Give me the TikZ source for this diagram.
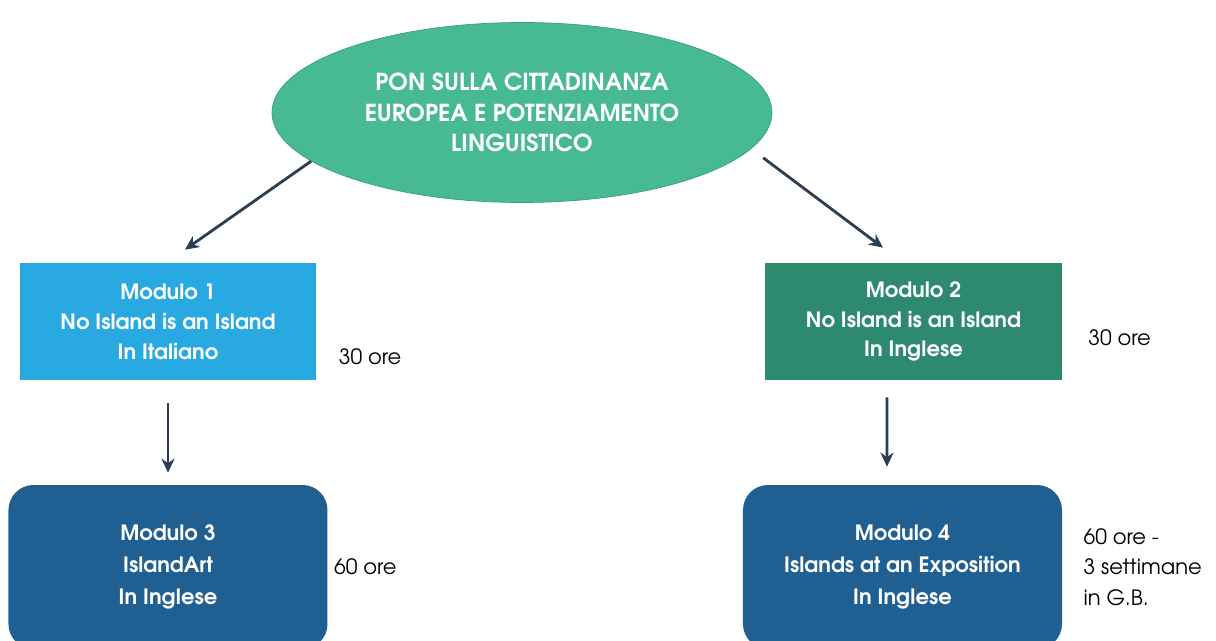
\documentclass[tikz,border=0pt]{standalone}
\usepackage{fontspec}
\setmainfont{TeX Gyre Adventor}
\usepackage{tikz}
\usetikzlibrary{shapes.geometric, arrows.meta, positioning}
\definecolor{ponGreen}{HTML}{48B995}
\definecolor{ponEdge}{HTML}{3A9E80}
\definecolor{modCyan}{HTML}{29A9E1}
\definecolor{modTeal}{HTML}{2E8A6E}
\definecolor{modBlue}{HTML}{1F5F91}
\definecolor{arrowGray}{HTML}{2C3E50}
\begin{document}
\begin{tikzpicture}[node distance=4.91cm]
	\tikzstyle{root} = [ellipse, minimum width=10cm, minimum height=3.6cm, 
	inner sep=0pt, align=center, text=white, font=\bfseries\fontsize{13.3}{17.3}\selectfont, 
	draw=ponEdge, fill=ponGreen]
	\tikzstyle{module} = [rectangle, minimum width=5.93cm, minimum height=2.34cm, 
	align=center, text=white, font=\bfseries\fontsize{12}{17}\selectfont]
	\tikzstyle{project} = [rectangle, rounded corners=0.5cm, minimum width=6.38cm, 
	minimum height=3.28cm, align=center, text=white, fill=modBlue, 
	font=\bfseries\fontsize{12}{18}\selectfont]
	\tikzstyle{hours} = [inner sep=0pt, align=left, font=\fontsize{12}{17.5}\selectfont]
	\tikzstyle{arrow} = [line width=1.6pt, draw=arrowGray, -{Stealth[length=0.28cm, width=0.26cm]}]
	\clip (-10.44,-10.62) rectangle (13.88,2.2);
	\fill [white] (-10.44,-10.62) rectangle (13.88,2.2);
	\node (pon) [root, yshift=-0.05cm] {PON SULLA CITTADINANZA\\EUROPEA E POTENZIAMENTO\\LINGUISTICO};
	\node (modulo1) [module, fill=modCyan, below of=pon, xshift=-7.08cm, yshift=0.73cm] 
	{Modulo 1\\No Island is an Island\\In Italiano};
	\node (modulo2) [module, fill=modTeal, below of=pon, xshift=7.83cm, yshift=0.73cm] 
	{Modulo 2\\No Island is an Island\\In Inglese};
	\node (modulo3) [project, below of=modulo1] {Modulo 3\\IslandArt\\In Inglese};
	\node (modulo4) [project, below of=modulo2, xshift=-0.22cm] 
	{Modulo 4\\Islands at an Exposition\\In Inglese};
	\node (hours1) [hours, right=0.44cm of modulo1.east, yshift=-0.71cm] {30 ore};
	\node (hours2) [hours, right=0.52cm of modulo2.east, yshift=-0.33cm] {30 ore};
	\node (hours3) [hours, right=0.12cm of modulo3.east] {60 ore};
	\node (hours4) [hours, right=0.42cm of modulo4.east] {60 ore -\\3 settimane\\in G.B.};
	\draw [arrow] (pon.193) -- ([xshift=0.34cm, yshift=0.26cm]modulo1.north);
	\draw [arrow, shorten <=0.3cm] (pon.-9) -- ([xshift=-0.61cm, yshift=0.3cm]modulo2.north);
	\draw [arrow] ([yshift=-0.46cm]modulo1.south) -- ([yshift=0.24cm]modulo3.north);
	\draw [arrow] ([xshift=-0.53cm, yshift=-0.34cm]modulo2.south) -- 
	([xshift=-0.31cm, yshift=0.36cm]modulo4.north);
\end{tikzpicture}
\end{document}
